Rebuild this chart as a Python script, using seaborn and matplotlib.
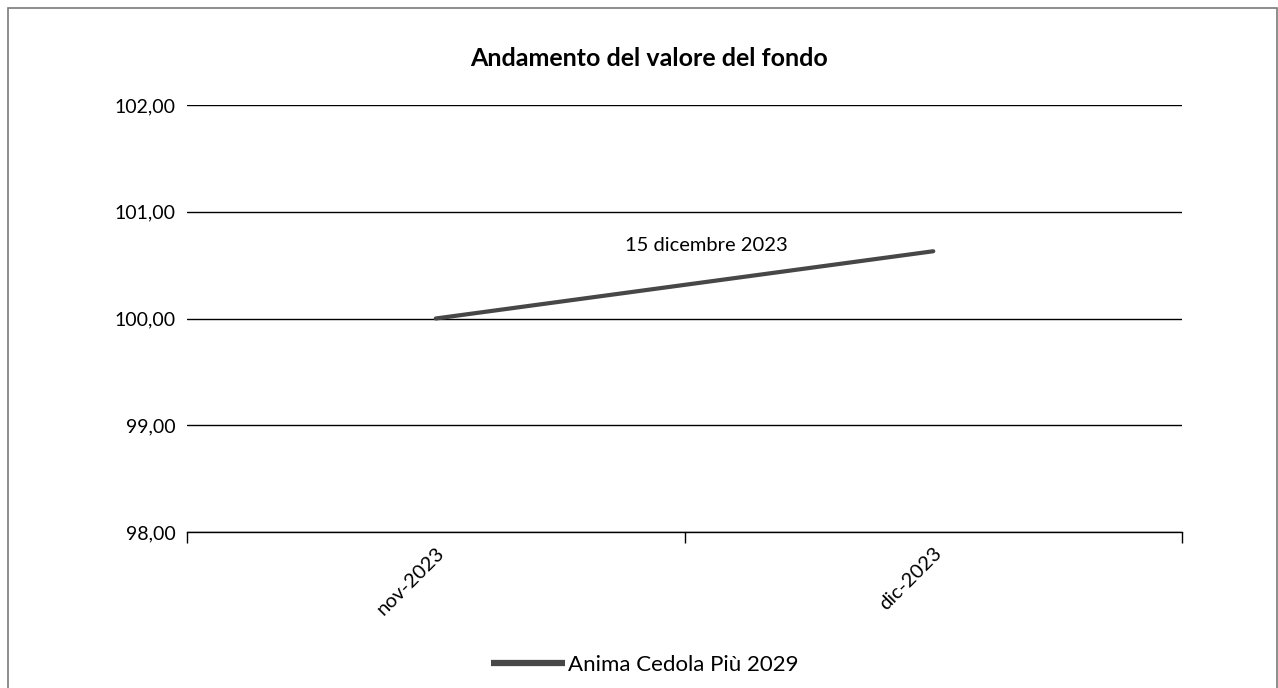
import matplotlib
matplotlib.use("Agg")
import matplotlib.pyplot as plt
import seaborn as sns
import pandas as pd
from matplotlib.patches import Rectangle
from matplotlib.ticker import FuncFormatter

# data
months = ["nov-2023", "dic-2023"]
values = [100.00, 100.63]
series_name = "Anima Cedola Più 2029"
label_text = "15 dicembre 2023"
title = "Andamento del valore del fondo"
y_ticks = [98, 99, 100, 101, 102]

sns.set_theme(style="white")
plt.rcParams["font.family"] = ["Lato", "DejaVu Sans"]
plt.rcParams["text.color"] = "black"
plt.rcParams["xtick.color"] = "black"
plt.rcParams["ytick.color"] = "black"

df = pd.DataFrame({"mese": months, "valore": values, "serie": series_name})
df["pos"] = range(len(months))

W, H = 1278, 688
fig = plt.figure(figsize=(W / 100, H / 100), dpi=100)
ax = fig.add_axes([187 / W, 1 - 532 / H, (1182 - 187) / W, (532 - 105) / H])

sns.lineplot(data=df, x="pos", y="valore", hue="serie", palette=["#474747"],
             linewidth=3, ax=ax, legend=True)

ax.set_xlim(-0.5, len(months) - 0.5)
ax.set_ylim(y_ticks[0], y_ticks[-1])
ax.set_yticks(y_ticks)
ax.yaxis.set_major_formatter(FuncFormatter(lambda v, p: f"{v:.2f}".replace(".", ",")))
ax.grid(axis="y", color="black", linewidth=1)
ax.set_axisbelow(True)

# category axis: ticks on boundaries, labels centred
ax.set_xticks([i - 0.5 for i in range(len(months) + 1)])
ax.set_xticklabels([""] * (len(months) + 1))
ax.set_xticks(range(len(months)), minor=True)
ax.set_xticklabels(months, minor=True, rotation=45, ha="right",
                   rotation_mode="anchor", fontsize=14.5)
ax.tick_params(axis="x", which="major", direction="out", length=8, width=1,
               color="black", bottom=True)
ax.tick_params(axis="x", which="minor", length=0, pad=9)
ax.tick_params(axis="y", length=0, labelsize=14, pad=8)

for side in ["top", "right", "left"]:
    ax.spines[side].set_visible(False)
ax.spines["bottom"].set_color("black")
ax.spines["bottom"].set_linewidth(1)
ax.set_xlabel("")
ax.set_ylabel("")

ax.annotate(label_text, xy=(df["pos"].iloc[-1], values[-1]), xytext=(-227, 6),
            textcoords="offset pixels", ha="center", va="center", fontsize=14.5)

fig.text(649 / W, 1 - 58 / H, title, ha="center", va="center",
         fontsize=18, fontweight="bold")

handles, labels = ax.get_legend_handles_labels()
ax.legend(handles, labels, loc="center", bbox_to_anchor=(645 / W, 1 - 665 / H),
          bbox_transform=fig.transFigure, frameon=False, fontsize=16,
          handlelength=3.3, handletextpad=0.15)
leg = ax.get_legend()
for h in leg.get_lines():
    h.set_linewidth(4.5)
    h.set_solid_capstyle("butt")

fig.patches.append(Rectangle((8 / W, -0.05), 1268.5 / W, 1.05 - 8 / H,
                             transform=fig.transFigure, fill=False,
                             edgecolor="#7a7a7a", linewidth=1.2))

fig.savefig("out.png", dpi=100)
